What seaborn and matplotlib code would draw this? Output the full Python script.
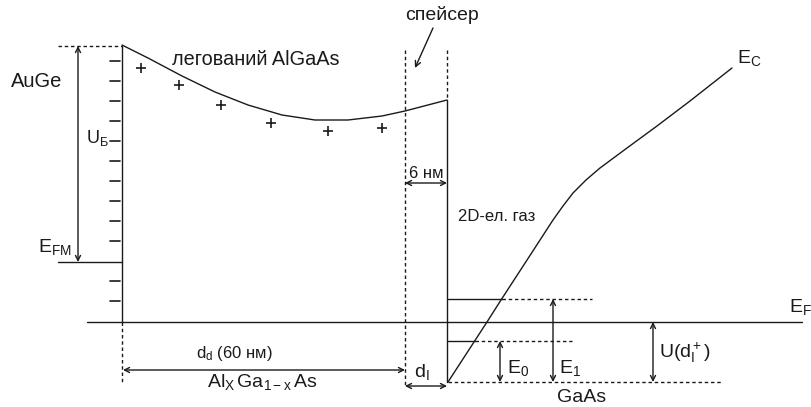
import matplotlib
matplotlib.use("Agg")
import matplotlib.pyplot as plt
import seaborn as sns
import pandas as pd

# conduction band in the doped AlGaAs (pixel coords of the schematic)
barrier_x = [122, 148, 182, 215, 248, 282, 315, 348, 382, 405, 447]
barrier_y = [45, 58, 76, 92, 105, 115, 120, 120, 116, 111, 100]

# conduction band E_c in GaAs
ec_x = [448, 487, 501, 529, 553, 563, 573, 586, 600, 627, 657, 690, 732]
ec_y = [382, 322, 300, 257, 220, 206, 193, 180, 168, 148, 126, 101, 68]

# ionised donors (+)
plus_x = [141, 179, 221, 271, 328, 382]
plus_y = [68, 85, 105, 123, 131, 128]

# negative charge on the metal side (dashes)
metal_ticks_y = [61, 81, 101, 121, 141, 161, 181, 201, 221, 241, 281, 301]

# levels
y_top = 46
y_efm = 262
y_ef = 322
y_e1 = 299
y_e0 = 341
y_bottom = 382

sns.set_theme(style="white")
plt.rcParams["font.family"] = ["Liberation Sans", "DejaVu Sans"]
plt.rcParams["mathtext.fontset"] = "custom"
plt.rcParams["mathtext.rm"] = "Liberation Sans"
plt.rcParams["mathtext.it"] = "Liberation Sans"

fig = plt.figure(figsize=(8.12, 4.07), dpi=100)
ax = fig.add_axes([0, 0, 1, 1])

K = "#1a1a1a"
LW = 1.0
DASH = (0, (2.5, 2))

curves = pd.DataFrame({"x": barrier_x, "y": barrier_y})
sns.lineplot(data=curves, x="x", y="y", ax=ax, color=K, lw=LW, sort=False,
             solid_joinstyle="round")
ec = pd.DataFrame({"x": ec_x, "y": ec_y})
sns.lineplot(data=ec, x="x", y="y", ax=ax, color=K, lw=LW, sort=False,
             solid_joinstyle="round")
sns.scatterplot(x=plus_x, y=plus_y, ax=ax, marker="+", s=55, color=K, linewidth=1.2)
ax.set_xlim(0, 812)
ax.set_ylim(407, 0)
ax.axis("off")

# metal side
ax.plot([58, 122], [y_top, y_top], color=K, lw=LW, ls=DASH)
ax.plot([58, 122], [y_efm, y_efm], color=K, lw=LW)
ax.plot([122, 122], [y_top, y_ef], color=K, lw=LW)
ax.plot([122, 122], [y_ef, y_bottom], color=K, lw=LW, ls=DASH)
for t in metal_ticks_y:
    ax.plot([110, 120], [t, t], color=K, lw=1.2)

# spacer boundaries
ax.plot([405, 405], [50, 387], color=K, lw=LW, ls=DASH)
ax.plot([447, 447], [50, 100], color=K, lw=LW, ls=DASH)
ax.plot([447, 447], [100, y_bottom], color=K, lw=LW)

# Fermi level
ax.plot([87, 802], [y_ef, y_ef], color=K, lw=LW)

# subband levels
ax.plot([448, 502], [y_e1, y_e1], color=K, lw=LW)
ax.plot([502, 592], [y_e1, y_e1], color=K, lw=LW, ls=DASH)
ax.plot([448, 475], [y_e0, y_e0], color=K, lw=LW)
ax.plot([475, 572], [y_e0, y_e0], color=K, lw=LW, ls=DASH)
ax.plot([448, 722], [y_bottom, y_bottom], color=K, lw=LW, ls=DASH)


def darrow(x0, y0, x1, y1):
    ax.annotate("", xy=(x1, y1), xytext=(x0, y0),
                arrowprops=dict(arrowstyle="<->", color=K, lw=LW,
                                mutation_scale=9, shrinkA=0, shrinkB=0))


darrow(78, y_efm, 78, y_top)
darrow(405, 183, 447, 183)
darrow(123, 370, 405, 370)
darrow(405, 386, 447, 386)
darrow(500, y_e0, 500, y_bottom)
darrow(553, y_e1, 553, y_bottom)
darrow(653, y_ef, 653, y_bottom)
ax.annotate("", xy=(415, 68), xytext=(433, 28),
            arrowprops=dict(arrowstyle="->", color=K, lw=LW,
                            mutation_scale=10, shrinkA=0, shrinkB=0))

FS = 14
SS = 12
txt = dict(color=K, va="baseline", ha="left")
ax.text(11, 87, "AuGe", fontsize=FS + 0.5, **txt)
ax.text(172, 65, "легований AlGaAs", fontsize=FS + 0.3, **txt)
ax.text(405, 20, "спейсер", fontsize=FS, **txt)
ax.text(409, 178, "6 нм", fontsize=SS, **txt)
ax.text(86, 143, r"$\mathregular{U_{Б}}$", fontsize=FS - 1, **txt)
ax.text(38, 252, r"$\mathregular{E_{FM}}$", fontsize=FS, **txt)
ax.text(196, 358, r"$\mathregular{d_d}$ (60 нм)", fontsize=SS, **txt)
ax.text(207, 387, r"$\mathregular{Al_X\,Ga_{1-x}\,As}$", fontsize=FS, **txt)
ax.text(414, 377, r"$\mathregular{d_I}$", fontsize=FS, **txt)
ax.text(507, 373, r"$\mathregular{E_0}$", fontsize=FS, **txt)
ax.text(559, 373, r"$\mathregular{E_1}$", fontsize=FS, **txt)
ax.text(659, 358, r"$\mathregular{U(d_I^+)}$", fontsize=FS, **txt)
ax.text(557, 402, "GaAs", fontsize=FS, **txt)
ax.text(789, 312, r"$\mathregular{E_F}$", fontsize=FS, **txt)
ax.text(737, 63, r"$\mathregular{E_C}$", fontsize=FS, **txt)
ax.text(458, 221, "2D-ел. газ", fontsize=SS, **txt)

fig.savefig("out.png", dpi=100)
